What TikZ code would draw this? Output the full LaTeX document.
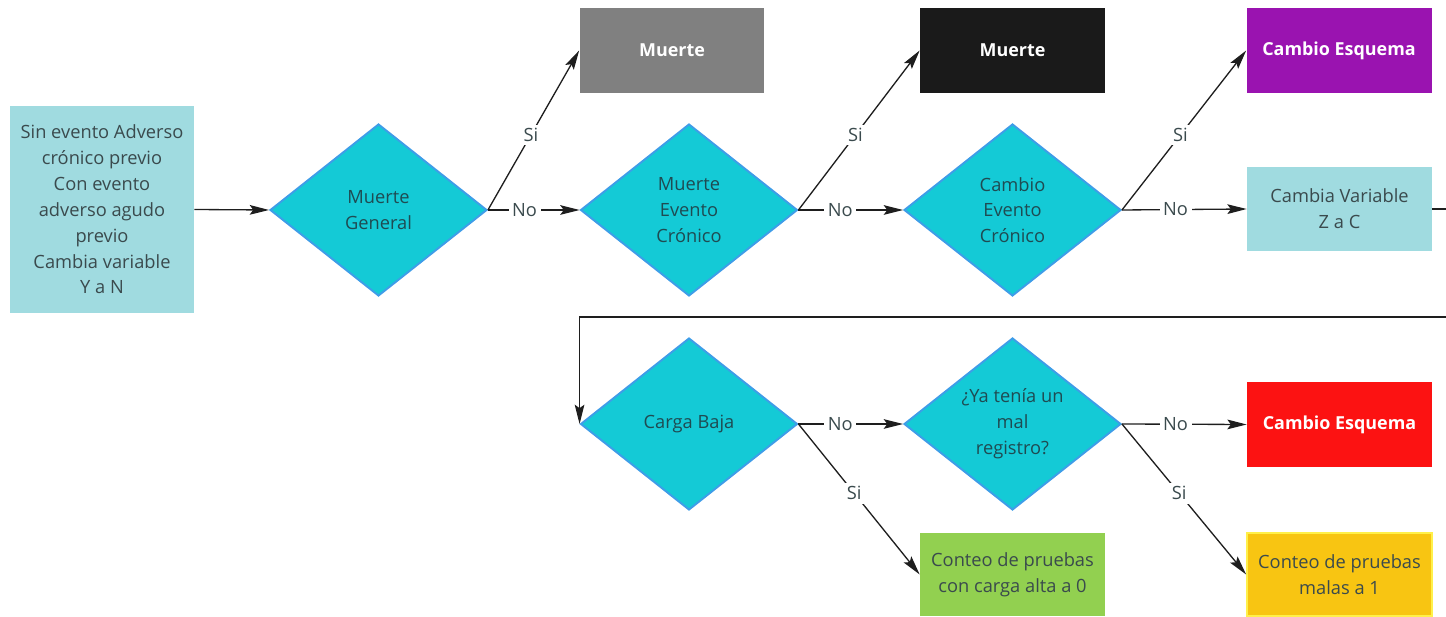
\documentclass[tikz,border=0pt]{standalone}
\usepackage{fontspec}
\setmainfont{Open Sans}
\usetikzlibrary{shapes.geometric,arrows.meta}
\definecolor{decfill}{HTML}{14CAD6}
\definecolor{decline}{HTML}{3E9DE8}
\definecolor{paleteal}{HTML}{A0DBE0}
\definecolor{boxgray}{HTML}{808080}
\definecolor{boxblack}{HTML}{1A1A1A}
\definecolor{boxpurple}{HTML}{9A13B0}
\definecolor{boxred}{HTML}{FC1212}
\definecolor{boxgreen}{HTML}{92D050}
\definecolor{boxyellow}{HTML}{F8C512}
\definecolor{yellowedge}{HTML}{FFF04A}
\definecolor{inktext}{HTML}{3A4A4D}
\definecolor{dectext}{HTML}{1F4B52}
\definecolor{linkcol}{HTML}{1E1E1E}
\begin{document}
\begin{tikzpicture}[x=0.02cm,y=-0.02cm,
  every node/.style={font=\fontsize{10.4}{14.7}\selectfont, align=center},
  decision/.style={diamond, fill=decfill, draw=decline, line width=1.1pt,
    minimum width=4.34cm, minimum height=3.44cm, inner sep=0pt, text=dectext},
  plainbox/.style={rectangle, minimum width=3.7cm, minimum height=1.7cm, inner sep=0pt},
  endbox/.style={plainbox, text=white, font=\fontsize{10.2}{14.7}\selectfont\bfseries},
  tealbox/.style={plainbox, fill=paleteal, text=inktext},
  link/.style={draw=linkcol, line width=0.75pt,
    -{Stealth[length=11pt,width=5.5pt,inset=2pt]}},
  tag/.style={fill=white, text=inktext, inner sep=2pt}
]
\useasboundingbox (0,0) rectangle (1446,617);
\clip (0,0) rectangle (1446,617);

% entry state
\node[tealbox, minimum width=3.68cm, minimum height=4.14cm] (start) at (102,209.5)
  {Sin evento Adverso\\crónico previo\\Con evento\\adverso agudo\\previo\\Cambia variable\\Y a N};

% decisions
\node[decision] (d1) at (378.5,210) {Muerte\\General};
\node[decision] (d2) at (689,210) {Muerte\\Evento\\Crónico};
\node[decision] (d3) at (1012.5,210) {Cambio\\Evento\\Crónico};
\node[decision] (d4) at (689,424) {Carga Baja};
\node[decision] (d5) at (1012.5,424) {¿Ya tenía un\\mal\\registro?};

% outcomes
\node[endbox, fill=boxgray] (m1) at (672,50.5) {Muerte};
\node[endbox, fill=boxblack] (m2) at (1012.5,50.5) {Muerte};
\node[endbox, fill=boxpurple] (ce1) at (1339,50.5) {Cambio Esquema};
\node[tealbox] (zc) at (1339.5,209) {Cambia Variable\\Z a C};
\node[endbox, fill=boxred] (ce2) at (1339.5,424.5) {Cambio Esquema};
\node[plainbox, fill=boxgreen, text=inktext, minimum height=1.66cm] (cnt0) at (1012.5,574.5)
  {Conteo de pruebas\\con carga alta a 0};
\node[plainbox, fill=boxyellow, draw=yellowedge, line width=1pt, text=inktext, minimum height=1.66cm]
  (cnt1) at (1339.5,574.5) {Conteo de pruebas\\malas a 1};

% connectors
\draw[link] (start.east) -- (d1.west);
\draw[link] (d1.east) -- node[tag, pos=0.4] {No} (d2.west);
\draw[link] (d1.east) -- node[tag, pos=0.47] {Si} (m1.west);
\draw[link] (d2.east) -- node[tag, pos=0.4] {No} (d3.west);
\draw[link] (d2.east) -- node[tag, pos=0.47] {Si} (m2.west);
\draw[link] (d3.east) -- node[tag, pos=0.43] {No} (zc.west);
\draw[link] (d3.east) -- node[tag, pos=0.47] {Si} (ce1.west);

% wrap-around to the second row
\coordinate (wrapA) at (1455,209);
\coordinate (wrapB) at (1455,317);
\draw[link] (zc.east) -- (wrapA) -- (wrapB) -| (d4.west);

\draw[link] (d4.east) -- node[tag, pos=0.4] {No} (d5.west);
\draw[link] (d4.east) -- node[tag, pos=0.46] {Si} (cnt0.west);
\draw[link] (d5.east) -- node[tag, pos=0.43] {No} (ce2.west);
\draw[link] (d5.east) -- node[tag, pos=0.46] {Si} (cnt1.west);
\end{tikzpicture}
\end{document}
